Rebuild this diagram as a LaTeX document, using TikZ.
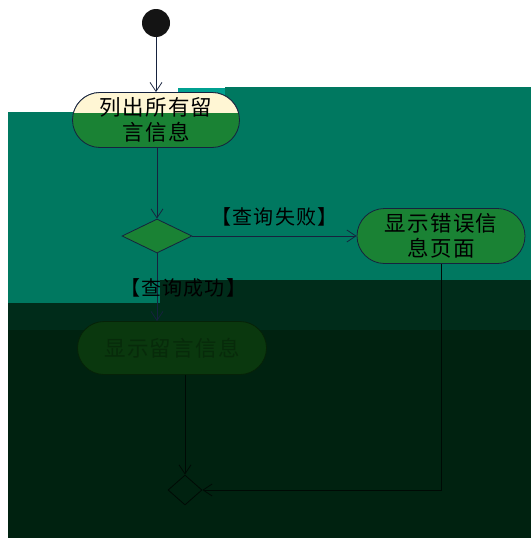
\documentclass[tikz,border=0pt]{standalone}
\usepackage{fontspec}
\newfontfamily\cjk[LetterSpace=6]{Noto Sans CJK SC}
\usetikzlibrary{shapes.geometric,shapes.misc,arrows.meta,calc}
\definecolor{teal1}{RGB}{0,120,96}
\definecolor{dark1}{RGB}{0,34,16}
\definecolor{dark2}{RGB}{0,44,26}
\definecolor{cream}{RGB}{255,246,212}
\definecolor{nodegreen}{RGB}{26,130,52}
\definecolor{lowgreen}{RGB}{10,56,14}
\definecolor{linec}{RGB}{22,34,62}
\begin{document}
\begin{tikzpicture}[x=1pt,y=-1pt,
  actbox/.style={rounded rectangle, draw=linec, line width=0.8pt, fill=nodegreen,
    inner sep=0pt, align=center, font=\cjk\fontsize{21.5}{25}\selectfont},
  choice/.style={diamond, draw=linec, line width=0.8pt, fill=nodegreen, inner sep=0pt},
  conn/.style={draw=linec, line width=0.8pt, -{Straight Barb[length=9pt,width=12pt]}},
  guard/.style={font=\cjk\fontsize{20}{24}\selectfont, text=black, inner sep=0pt}]
\useasboundingbox (0,0) rectangle (531,538);
% corrupted background bands
\fill[white] (0,0) rectangle (531,538);
\fill[teal1] (8,112) rectangle (531,303);
\fill[teal1] (225,87) rectangle (531,112);
\fill[teal1!70!cyan] (178,88) rectangle (225,112);
\fill[dark2] (8,303) rectangle (531,330);
\fill[dark2] (160,280) rectangle (531,330);
\fill[dark1] (8,330) rectangle (531,538);
% start
\node[circle, fill=black!92, minimum size=28pt, inner sep=0pt] (start) at (156,23) {};
% list all messages
\node[actbox, minimum width=167pt, minimum height=55pt] (n1) at (156,120) {列出所有留\\言信息};
\begin{scope}
  \clip (0,0) rectangle (531,112);
  \node[actbox, fill=cream, minimum width=167pt, minimum height=55pt] at (156,120) {列出所有留\\言信息};
\end{scope}
% decision
\node[choice, minimum width=70pt, minimum height=34pt] (d1) at (157,236) {};
% error page
\node[actbox, minimum width=168pt, minimum height=55pt] (n2) at (441,236) {显示错误信\\息页面};
% success page
\node[actbox, fill=lowgreen, draw=lowgreen!60!black, text=lowgreen!75!black, minimum width=189pt, minimum height=53pt] (n3) at (172,348) {显示留言信息};
% merge
\node[choice, fill=dark1, draw=black!70!dark1, minimum width=34pt, minimum height=30pt] (m1) at (185,490) {};
% connectors
\draw[conn] (start) -- (n1);
\draw[conn] (n1.south -| d1) -- (d1.north);
\draw[conn] (d1.east) -- (n2.west) node[guard, pos=0.5, above=9pt] (g1) {【查询失败】};
\draw[conn] (d1.south) -- (d1.south |- n3.north);
\node[guard] (g2) at (183,288) {【查询成功】};
\draw[conn, draw=black!70!dark1] (n3.south -| m1) -- (m1.north);
\draw[conn, draw=black!70!dark1] (n2.south) -- (n2.south |- m1.east) -- (m1.east);
\end{tikzpicture}
\end{document}
